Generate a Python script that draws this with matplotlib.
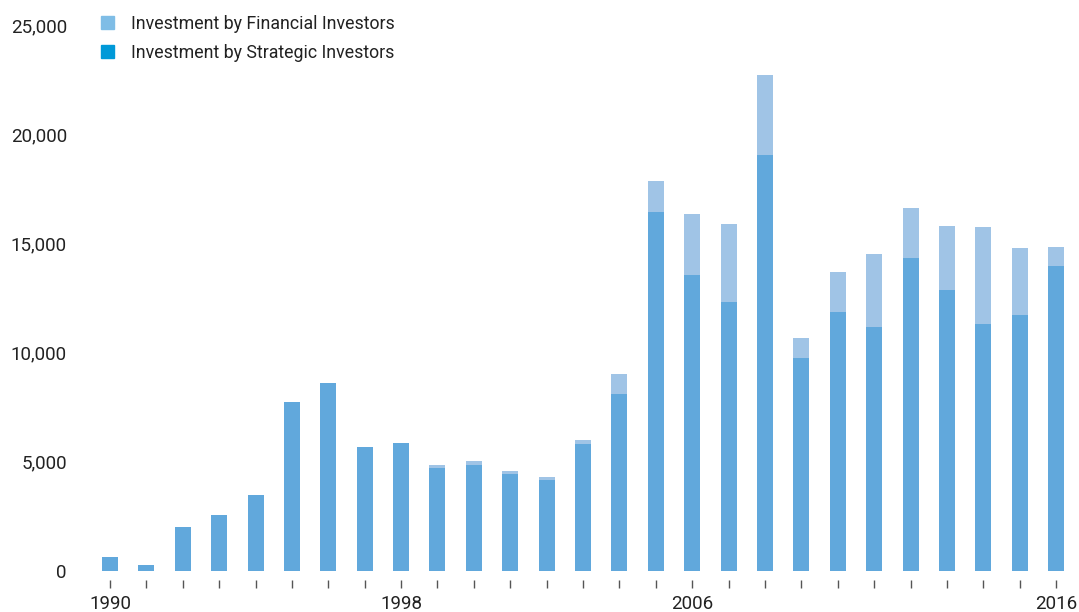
from matplotlib import pyplot as plt
from matplotlib.patches import Patch
import numpy as np

plt.rcParams['font.family'] = ['Roboto', 'DejaVu Sans']

years = list(range(1990, 2017))
strategic = [650, 270, 2000, 2550, 3500, 7750, 8600, 5700, 5850, 4700, 4850, 4450, 4150, 5800,
             8100, 16450, 13550, 12300, 19050, 9750, 11850, 11150, 14350, 12850, 11300, 11700, 13950]
financial = [0, 0, 0, 0, 0, 0, 0, 0, 0, 150, 170, 150, 150, 180,
             900, 1400, 2800, 3600, 3650, 900, 1850, 3350, 2250, 2950, 4450, 3100, 900]
labelled_years = [1990, 1998, 2006, 2016]
y_ticks = [0, 5000, 10000, 15000, 20000, 25000]

W, H = 1079, 612
fig = plt.figure(figsize=(W / 100, H / 100), dpi=100)
# axes placed in pixels: left 85, right 1075, bottom baseline 571, top 25
ax = fig.add_axes([85 / W, (H - 571) / H, 990 / W, 546 / H])

x = np.arange(len(years))
ax.bar(x, strategic, width=0.44, color='#61a8dc')
ax.bar(x, financial, width=0.44, bottom=strategic, color='#a0c4e6')

ax.set_xlim(-0.687, 26.52)
ax.set_ylim(0, 25000)

for side in ['top', 'right', 'left', 'bottom']:
    ax.spines[side].set_visible(False)
ax.spines['bottom'].set_position(('outward', 6.5))

ax.set_xticks(x, minor=True)
ax.set_xticks([years.index(y) for y in labelled_years])
ax.set_xticklabels([str(y) for y in labelled_years])
ax.tick_params(axis='x', which='both', direction='out', length=6, width=1, color='#555555')
ax.tick_params(axis='x', which='major', pad=5, labelsize=13.5, labelcolor='#222222')

ax.set_yticks(y_ticks)
ax.set_yticklabels([f"{v:,}" for v in y_ticks])
ax.tick_params(axis='y', length=0, pad=13, labelsize=13.5, labelcolor='#222222')

handles = [Patch(color='#7fbde6', label='Investment by Financial Investors'),
           Patch(color='#0099d8', label='Investment by Strategic Investors')]
fig.legend(handles=handles, loc='upper left', bbox_to_anchor=(101 / W, 1 - 15 / H),
           frameon=False, fontsize=12.8, handlelength=0.72, handleheight=0.72,
           handletextpad=0.95, labelspacing=0.62, borderpad=0, borderaxespad=0,
           labelcolor='#222222')

plt.savefig('out.png', dpi=100)
plt.close()
